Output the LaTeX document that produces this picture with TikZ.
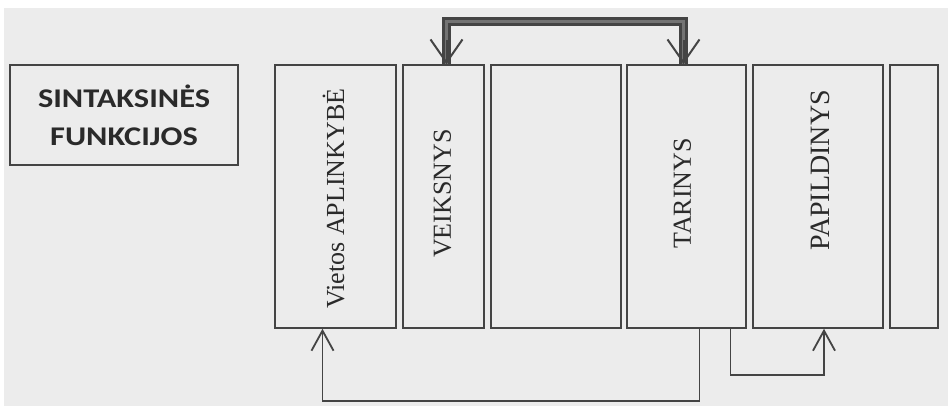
\documentclass[tikz,border=0pt]{standalone}
\usepackage{fontspec}
\setmainfont{Liberation Serif}
\newfontfamily\headfont[FakeStretch=1.2]{Carlito}
\usetikzlibrary{arrows.meta}
\definecolor{paper}{HTML}{ECECEC}
\definecolor{ink}{HTML}{444444}
\definecolor{textink}{HTML}{2A2A2A}
\begin{document}
\begin{tikzpicture}[x=1pt,y=-1pt,
  panel/.style={draw=ink, line width=1.6pt, fill=paper, inner sep=0pt, minimum height=263pt},
  headbox/.style={draw=ink, line width=1.6pt, fill=paper, inner sep=0pt,
    minimum width=228pt, minimum height=100pt, align=center, text=textink,
    font=\headfont\bfseries\fontsize{27}{38}\selectfont},
  vlabel/.style={rotate=90, font=\fontsize{26}{30}\selectfont, text=textink, inner sep=0pt},
  conn/.style={draw=ink, line width=1.6pt, line join=miter},
  lowbarb/.style={-{Straight Barb[length=20pt,width=22pt,line width=1.8pt]}},
  topline/.style={draw=ink, line width=3pt, double=gray!90!black, double distance=3pt, line join=miter},
  topbarb/.style={draw=ink, line width=2pt, -{Straight Barb[length=23pt,width=32pt,line width=2pt]}}
]
% canvas
\useasboundingbox (0,0) rectangle (948,406);
\fill[white] (0,0) rectangle (948,406);
\fill[paper] (4,8) rectangle (948,406);

% heading
\node[headbox] (sf) at (124,115) {SINTAKSINĖS\\FUNKCIJOS};

% column of syntactic slots
\node[panel, minimum width=121pt] (apl) at (335.5,196.5) {};
\node[panel, minimum width=81pt]  (veik) at (443.5,196.5) {};
\node[panel, minimum width=130pt] (mid) at (556,196.5) {};
\node[panel, minimum width=119pt] (tar) at (686.5,196.5) {};
\node[panel, minimum width=130pt] (pap) at (818,196.5) {};
\node[panel, minimum width=48pt]  (last) at (914,196.5) {};

% slot labels
\node[vlabel] (aplL) at ([shift={(-2,2)}]apl.center) {Vietos APLINKYBĖ};
\node[vlabel] (veikL) at ([shift={(-1,-3)}]veik.center) {VEIKSNYS};
\node[vlabel] (tarL) at ([shift={(-4,-3)}]tar.center) {TARINYS};
\node[vlabel, font=\fontsize{28}{32}\selectfont] (papL) at ([shift={(2,-26)}]pap.center) {PAPILDINYS};

% subject -- predicate link above the slots
\draw[topline] ([xshift=3pt]veik.north) -- ++(0,-43) -| ([xshift=-3pt]tar.north);
\draw[topbarb] ([xshift=3pt,yshift=24pt]veik.north) -- ([xshift=3pt]veik.north);
\draw[topbarb] ([xshift=-3pt,yshift=24pt]tar.north) -- ([xshift=-3pt]tar.north);

% predicate links below the slots
\draw[conn, lowbarb] ([xshift=13pt]tar.south) -- ++(0,72) -| ([xshift=-13pt]apl.south);
\draw[conn, lowbarb] ([xshift=44pt]tar.south) -- ++(0,46) -| ([xshift=6pt]pap.south);
\end{tikzpicture}
\end{document}
